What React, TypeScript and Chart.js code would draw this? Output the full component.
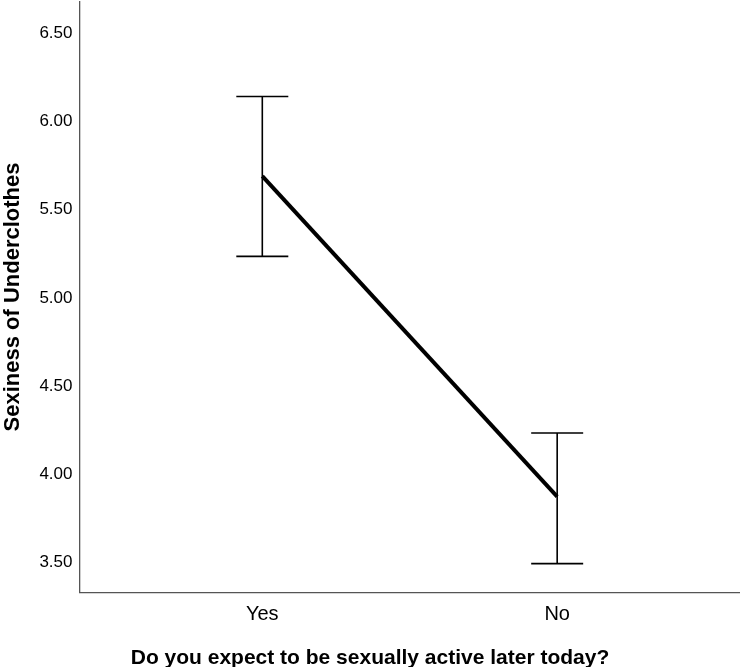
import { useEffect, useRef } from "react";
import { Chart, registerables } from "chart.js";

Chart.register(...registerables);

const categories = ["Yes", "No"];
const means = [5.69, 3.875];
const upper = [6.14, 4.235];
const lower = [5.235, 3.495];
const yTicks = [3.5, 4.0, 4.5, 5.0, 5.5, 6.0, 6.5];

const FONT = "'Liberation Sans', Arial, sans-serif";

// draws the vertical whiskers + caps for each point
const errorBars = {
  id: "errorBars",
  afterDatasetsDraw(chart: any) {
    const { ctx, scales } = chart;
    const xs = scales.x;
    const ys = scales.y;
    ctx.save();
    ctx.strokeStyle = "#000";
    ctx.lineWidth = 1.6;
    categories.forEach((_, i) => {
      const x = xs.getPixelForValue(i + 1);
      const top = ys.getPixelForValue(upper[i]);
      const bot = ys.getPixelForValue(lower[i]);
      const half = 26;
      ctx.beginPath();
      ctx.moveTo(x, top);
      ctx.lineTo(x, bot);
      ctx.moveTo(x - half, top);
      ctx.lineTo(x + half, top);
      ctx.moveTo(x - half, bot);
      ctx.lineTo(x + half, bot);
      ctx.stroke();
    });
    ctx.restore();
  },
};

export default function App() {
  const ref = useRef<HTMLCanvasElement>(null);

  useEffect(() => {
    if (!ref.current) return;
    const chart = new Chart(ref.current, {
      type: "line",
      data: {
        datasets: [
          {
            data: means.map((m, i) => ({ x: i + 1, y: m })),
            borderColor: "#000",
            borderWidth: 4,
            pointRadius: 0,
            fill: false,
          },
        ],
      },
      options: {
        animation: false,
        responsive: false,
        layout: { padding: 0 },
        plugins: {
          legend: { display: false },
          tooltip: { enabled: false },
          title: {
            display: true,
            position: "bottom",
            text: "Do you expect to be sexually active later today?",
            color: "#000",
            font: { family: FONT, size: 21, weight: "bold" },
            padding: { top: 9, bottom: 0 },
          },
        },
        scales: {
          x: {
            type: "linear",
            min: 0.38,
            max: 2.62,
            afterBuildTicks: (s: any) => {
              s.ticks = categories.map((_, i) => ({ value: i + 1 }));
            },
            ticks: {
              callback: (v: any) => categories[Number(v) - 1] ?? "",
              color: "#000",
              font: { family: FONT, size: 20 },
              padding: 10,
              maxRotation: 0,
            },
            grid: { display: false, drawTicks: false },
            border: { display: true, color: "#555", width: 1.3 },
          },
          y: {
            type: "linear",
            min: 3.33,
            max: 6.68,
            afterBuildTicks: (s: any) => {
              s.ticks = yTicks.map((v) => ({ value: v }));
            },
            ticks: {
              callback: (v: any) => Number(v).toFixed(2),
              color: "#000",
              font: { family: FONT, size: 17 },
              padding: 7,
            },
            grid: { display: false, drawTicks: false },
            border: { display: true, color: "#555", width: 1.3 },
            title: {
              display: true,
              text: "Sexiness of Underclothes",
              color: "#000",
              font: { family: FONT, size: 22, weight: "bold" },
              padding: { top: 0, bottom: 6 },
            },
          },
        },
      },
      plugins: [errorBars],
    });
    return () => chart.destroy();
  }, []);

  return (
    <div style={{ position: "absolute", left: 0, top: 0, width: 740, height: 667, overflow: "hidden", background: "#fff" }}>
      <canvas ref={ref} width={740} height={687} style={{ position: "absolute", left: 0, top: -16 }} />
    </div>
  );
}
